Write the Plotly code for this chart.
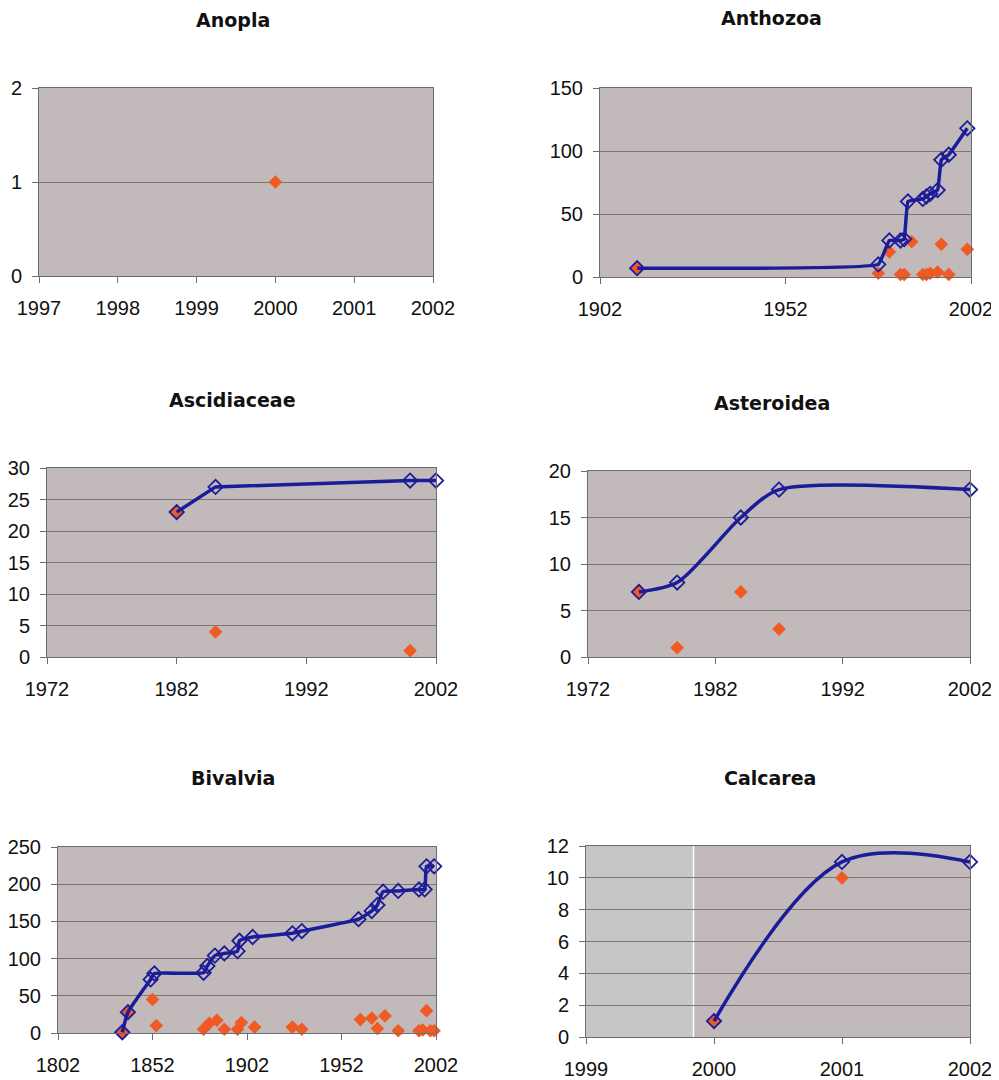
import plotly.graph_objects as go

# page body has an 8px default margin; the figure is sized to fill the rest of the window
OFF = 8
W, H = 999 - OFF, 1080 - OFF

# ---------------- data ----------------
titles = ["Anopla", "Anthozoa", "Ascidiaceae", "Asteroidea", "Bivalvia", "Calcarea"]

anopla_new_years = [2000]
anopla_new = [1]
anopla_cum_years = []
anopla_cum = []

anthozoa_cum_years = [1912, 1977, 1980, 1983, 1984, 1985, 1989, 1990, 1991, 1993, 1994, 1996, 2001]
anthozoa_cum = [7, 10, 29, 29, 30, 60, 62, 64, 66, 69, 93, 97, 118]
anthozoa_new_years = [1912, 1977, 1980, 1983, 1984, 1986, 1989, 1990, 1991, 1993, 1994, 1996, 2001]
anthozoa_new = [7, 3, 20, 2, 2, 28, 2, 2, 3, 4, 26, 2, 22]

ascid_cum_years = [1982, 1985, 2000, 2002]
ascid_cum = [23, 27, 28, 28]
ascid_new_years = [1982, 1985, 2000]
ascid_new = [23, 4, 1]

aster_cum_years = [1976, 1979, 1984, 1987, 2002]
aster_cum = [7, 8, 15, 18, 18]
aster_new_years = [1976, 1979, 1984, 1987]
aster_new = [7, 1, 7, 3]

bival_cum_years = [1836, 1839, 1851, 1853, 1879, 1881, 1885, 1890, 1897, 1898, 1905, 1926, 1931,
                   1961, 1968, 1971, 1974, 1982, 1993, 1996, 1997, 2001]
bival_cum = [1, 28, 72, 80, 81, 90, 104, 107, 110, 124, 129, 134, 137,
             153, 164, 172, 190, 191, 193, 193, 224, 224]
bival_new_years = [1836, 1839, 1852, 1854, 1879, 1882, 1886, 1890, 1897, 1899, 1906, 1926, 1931,
                   1962, 1968, 1971, 1975, 1982, 1993, 1995, 1997, 1999, 2001]
bival_new = [1, 27, 45, 10, 5, 13, 17, 5, 5, 14, 8, 8, 5,
             18, 20, 6, 23, 3, 3, 4, 30, 3, 3]

calc_cum_years = [2000, 2001, 2002]
calc_cum = [1, 11, 11]
calc_new_years = [2000, 2001]
calc_new = [1, 10]

x_ticks = [
    [1997, 1998, 1999, 2000, 2001, 2002],
    [1902, 1952, 2002],
    [1972, 1982, 1992, 2002],
    [1972, 1982, 1992, 2002],
    [1802, 1852, 1902, 1952, 2002],
    [1999, 2000, 2001, 2002],
]
y_ticks = [
    [0, 1, 2],
    [0, 50, 100, 150],
    [0, 5, 10, 15, 20, 25, 30],
    [0, 5, 10, 15, 20],
    [0, 50, 100, 150, 200, 250],
    [0, 2, 4, 6, 8, 10, 12],
]
calc_shaded = [1999, 1999.84]

cum_sets = [(anopla_cum_years, anopla_cum), (anthozoa_cum_years, anthozoa_cum),
            (ascid_cum_years, ascid_cum), (aster_cum_years, aster_cum),
            (bival_cum_years, bival_cum), (calc_cum_years, calc_cum)]
new_sets = [(anopla_new_years, anopla_new), (anthozoa_new_years, anthozoa_new),
            (ascid_new_years, ascid_new), (aster_new_years, aster_new),
            (bival_new_years, bival_new), (calc_new_years, calc_new)]

# line style per panel (shape, smoothing)
line_styles = [("linear", 0), ("spline", 0.25), ("linear", 0), ("spline", 0.75),
               ("spline", 0.45), ("spline", 1.0)]

# ---------------- layout (pixel boxes of plot areas, window coords) ----------------
boxes = [  # x0, x1, y0(top), y1(bottom)
    (39, 433, 88, 276),
    (600, 971, 88, 277),
    (47, 436, 468, 657),
    (588, 970, 471, 657),
    (58, 436, 847, 1033),
    (586, 970, 846, 1037),
]
title_pos = [(233, 20), (771, 18), (232, 400), (772, 403), (233, 778), (770, 778)]


def px(x):
    return (x - OFF) / W


def py(y):
    return 1 - (y - OFF) / H


BG = "#c1b9ba"
GRID = "#7d7676"
AXIS = "#6c6c74"
BLUE = "#1c1c9a"
ORANGE = "#f05a23"
TICKFONT = dict(family="Liberation Sans, Arial, sans-serif", size=20, color="#111111")

fig = go.Figure()
layout = dict(width=W, height=H, margin=dict(l=0, r=0, t=0, b=0, autoexpand=False),
              paper_bgcolor="white", plot_bgcolor=BG, showlegend=False,
              annotations=[], shapes=[])

for i in range(6):
    n = "" if i == 0 else str(i + 1)
    x0, x1, y0, y1 = boxes[i]
    xt, yt = x_ticks[i], y_ticks[i]
    layout["xaxis" + n] = dict(
        domain=[px(x0), px(x1)], range=[xt[0], xt[-1]], anchor="y" + n,
        tickmode="array", tickvals=xt, ticktext=[str(v) for v in xt],
        ticks="outside", ticklen=6, tickcolor=AXIS, showgrid=False, zeroline=False,
        showline=True, linecolor=AXIS, linewidth=1, mirror=True, automargin=False,
        tickfont=TICKFONT, ticklabelstandoff=8,
    )
    layout["yaxis" + n] = dict(
        domain=[py(y1), py(y0)], range=[yt[0], yt[-1]], anchor="x" + n,
        tickmode="array", tickvals=yt, ticktext=[str(v) for v in yt],
        ticks="outside", ticklen=6, tickcolor=AXIS, showgrid=True, gridcolor=GRID,
        gridwidth=1, zeroline=False, showline=True, linecolor=AXIS, linewidth=1,
        mirror=True, automargin=False, tickfont=TICKFONT, ticklabelstandoff=6,
    )
    tx, ty = title_pos[i]
    layout["annotations"].append(dict(
        text="<b>" + titles[i] + "</b>", x=px(tx), y=py(ty), xref="paper", yref="paper",
        showarrow=False, xanchor="center", yanchor="middle",
        font=dict(family="DejaVu Sans, sans-serif", size=19, color="#111111")))

    nx, ny = new_sets[i]
    fig.add_trace(go.Scatter(x=nx, y=ny, mode="markers", xaxis="x" + n, yaxis="y" + n,
                             marker=dict(symbol="diamond", size=10.5, color=ORANGE,
                                         line=dict(width=0)),
                             cliponaxis=False))
    cx, cy = cum_sets[i]
    if cx:
        shp, sm = line_styles[i]
        ld = dict(color=BLUE, width=3.5, shape=shp)
        if shp == "spline":
            ld["smoothing"] = sm
        fig.add_trace(go.Scatter(x=cx, y=cy, mode="lines+markers", xaxis="x" + n, yaxis="y" + n,
                                 line=ld,
                                 marker=dict(symbol="diamond-open", size=11, color=BLUE,
                                             line=dict(width=1.8, color=BLUE)),
                                 cliponaxis=False))

# grey shaded region in Calcarea panel
layout["shapes"].append(dict(type="rect", xref="x6", yref="y6", x0=calc_shaded[0], x1=calc_shaded[1],
                             y0=0, y1=12, fillcolor="#c6c6c6", line=dict(width=0), layer="below"))
layout["shapes"].append(dict(type="line", xref="x6", yref="y6", x0=calc_shaded[1], x1=calc_shaded[1],
                             y0=0, y1=12, line=dict(color="white", width=1.5), layer="below"))

fig.update_layout(**layout)
fig.write_html("out.html")
